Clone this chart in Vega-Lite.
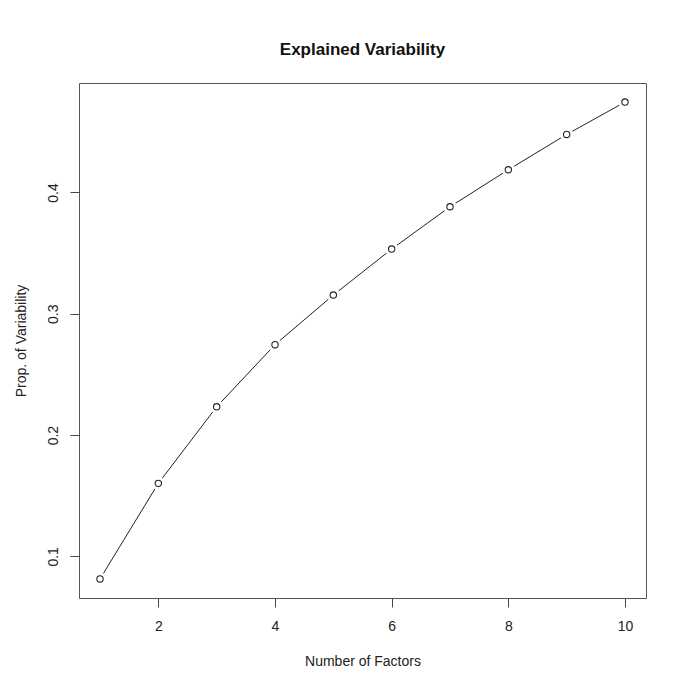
{
  "$schema": "https://vega.github.io/schema/vega-lite/v6.json",
  "autosize": "none",
  "width": 567,
  "height": 515,
  "padding": {"left": 79, "top": 83, "right": 27, "bottom": 81},
  "background": "white",
  "title": {
    "text": "Explained Variability",
    "font": "Liberation Sans",
    "fontSize": 17,
    "fontWeight": "bold",
    "color": "#111",
    "anchor": "middle",
    "baseline": "alphabetic",
    "offset": 11
  },
  "config": {
    "view": {"stroke": "#555", "strokeWidth": 1},
    "axis": {
      "grid": false,
      "domain": false,
      "tickColor": "#444",
      "tickSize": 9,
      "labelFont": "Liberation Sans",
      "labelFontSize": 14,
      "labelColor": "#222",
      "titleFont": "Liberation Sans",
      "titleFontSize": 14,
      "titleFontWeight": "normal",
      "titleColor": "#222"
    }
  },
  "data": {
    "values": [
      {"factors": 1, "prop": 0.0814},
      {"factors": 2, "prop": 0.1602},
      {"factors": 3, "prop": 0.2233},
      {"factors": 4, "prop": 0.2745},
      {"factors": 5, "prop": 0.3154},
      {"factors": 6, "prop": 0.3533},
      {"factors": 7, "prop": 0.3882},
      {"factors": 8, "prop": 0.4187},
      {"factors": 9, "prop": 0.4478},
      {"factors": 10, "prop": 0.4745}
    ]
  },
  "encoding": {
    "x": {
      "field": "factors",
      "type": "quantitative",
      "scale": {"domain": [0.64, 10.36], "nice": false, "zero": false},
      "axis": {
        "title": "Number of Factors",
        "values": [2, 4, 6, 8, 10],
        "labelPadding": 12,
        "labelBaseline": "top",
        "titlePadding": 21
      }
    },
    "y": {
      "field": "prop",
      "type": "quantitative",
      "scale": {"domain": [0.0657, 0.4902], "nice": false, "zero": false},
      "axis": {
        "title": "Prop. of Variability",
        "values": [0.1, 0.2, 0.3, 0.4],
        "format": ".1f",
        "labelAngle": -90,
        "labelAlign": "center",
        "labelBaseline": "alphabetic",
        "labelPadding": 13,
        "titleBaseline": "alphabetic",
        "titlePadding": 21
      }
    }
  },
  "layer": [
    {"mark": {"type": "line", "color": "#222", "strokeWidth": 1}},
    {"mark": {"type": "point", "shape": "circle", "filled": true, "color": "white", "opacity": 1, "size": 180}},
    {"mark": {"type": "point", "shape": "circle", "filled": false, "color": "#222", "opacity": 1, "strokeWidth": 1.1, "size": 40}}
  ]
}
